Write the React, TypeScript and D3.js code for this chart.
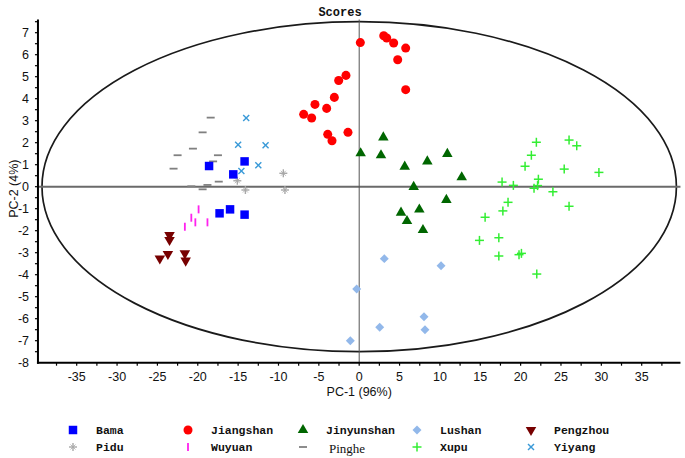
import React from "react";
import * as d3 from "d3";

const bama: [number, number][] = [[-18.6, 0.94], [-14.2, 1.15], [-15.6, 0.56], [-17.3, -1.21], [-16.0, -1.03], [-14.2, -1.27]];
const jiangshan: [number, number][] = [[0.14, 6.55], [3.04, 6.86], [3.41, 6.76], [4.27, 6.53], [5.76, 6.3], [4.77, 5.77], [5.76, 4.41], [-1.64, 5.06], [-2.54, 4.83], [-3.08, 4.06], [-5.48, 3.74], [-4.03, 3.56], [-6.88, 3.29], [-5.89, 3.12], [-3.9, 2.38], [-3.37, 2.09], [-1.39, 2.47]];
const jinyunshan: [number, number][] = [[2.99, 2.24], [0.18, 1.52], [2.7, 1.43], [5.64, 0.91], [8.44, 1.15], [10.92, 1.49], [12.7, 0.43], [6.75, -0.01], [10.8, -0.6], [7.45, -1.04], [5.18, -1.18], [5.92, -1.56], [7.9, -1.97]];
const lushan: [number, number][] = [[3.11, -3.27], [10.14, -3.59], [-0.31, -4.65], [8.03, -5.91], [2.54, -6.39], [8.15, -6.5], [-1.1, -7.0]];
const pengzhou: [number, number][] = [[-23.5, -2.2], [-23.5, -2.42], [-24.7, -3.26], [-23.7, -3.06], [-21.6, -3.03], [-21.5, -3.36]];
const pidu: [number, number][] = [[-9.4, 0.61], [-15.1, 0.27], [-14.1, -0.15], [-9.2, -0.15]];
const wuyuan: [number, number][] = [[-19.9, -1.03], [-20.8, -1.41], [-20.3, -1.62], [-18.8, -1.62], [-21.6, -1.82]];
const pinghe: [number, number][] = [[-18.4, 3.14], [-19.4, 2.47], [-20.6, 1.73], [-22.5, 1.43], [-17.5, 1.43], [-23.0, 0.82], [-18.1, 1.15], [-18.8, 0.08], [-20.8, 0.02], [-17.4, 0.23], [-19.4, -0.12]];
const xupu: [number, number][] = [[21.95, 2.02], [26.0, 2.12], [26.95, 1.86], [21.33, 1.43], [20.55, 0.93], [25.4, 0.8], [29.7, 0.65], [22.2, 0.34], [17.7, 0.21], [19.1, 0.06], [21.66, -0.07], [22.1, 0.05], [24.0, -0.23], [26.0, -0.89], [18.44, -0.71], [17.8, -1.1], [15.6, -1.39], [14.9, -2.44], [17.3, -2.32], [17.3, -3.15], [19.8, -3.09], [20.1, -3.03], [22.0, -3.97]];
const yiyang: [number, number][] = [[-14.0, 3.12], [-15.0, 1.91], [-11.6, 1.88], [-12.5, 0.97], [-14.6, 0.71]];

const xTickLabels = [-35, -30, -25, -20, -15, -10, -5, 0, 5, 10, 15, 20, 25, 30, 35];
const yTickLabels = [7, 6, 5, 4, 3, 2, 1, 0, -1, -2, -3, -4, -5, -6, -7, -8];

const legendRow1 = ["Bama", "Jiangshan", "Jinyunshan", "Lushan", "Pengzhou"];
const legendRow2 = ["Pidu", "Wuyuan", "Pinghe", "Xupu", "Yiyang"];

const W = 685;
const H = 458;

const x = d3.scaleLinear().domain([-35, 35]).range([76.7, 641.7]);
const y = d3.scaleLinear().domain([-8, 7]).range([362.7, 32.7]);
const X0 = x(-39.8);
const X1 = x(39.8);
const Y0 = y(-8);
const Y1 = y(7.6);

type Kind = "square" | "circle" | "tri" | "diamond" | "itri" | "aster" | "bar" | "dash" | "plus" | "x";

const styles: Record<string, { kind: Kind; color: string }> = {
  Bama: { kind: "square", color: "#0000ff" },
  Jiangshan: { kind: "circle", color: "#ff0000" },
  Jinyunshan: { kind: "tri", color: "#006600" },
  Lushan: { kind: "diamond", color: "#92b8ea" },
  Pengzhou: { kind: "itri", color: "#770000" },
  Pidu: { kind: "aster", color: "#a8a8a8" },
  Wuyuan: { kind: "bar", color: "#ff22ee" },
  Pinghe: { kind: "dash", color: "#808080" },
  Xupu: { kind: "plus", color: "#33ee33" },
  Yiyang: { kind: "x", color: "#3a9ad8" },
};

const seriesData: Record<string, [number, number][]> = {
  Bama: bama,
  Jiangshan: jiangshan,
  Jinyunshan: jinyunshan,
  Lushan: lushan,
  Pengzhou: pengzhou,
  Pidu: pidu,
  Wuyuan: wuyuan,
  Pinghe: pinghe,
  Xupu: xupu,
  Yiyang: yiyang,
};

const sq = d3.symbol().type(d3.symbolSquare).size(72)()!;
const circ = d3.symbol().type(d3.symbolCircle).size(64)()!;
const tri = d3.symbol().type(d3.symbolTriangle).size(48)()!;
const dia = d3.symbol().type(d3.symbolSquare).size(40)()!;

function Marker({ kind, color, cx, cy }: { kind: Kind; color: string; cx: number; cy: number }) {
  const t = `translate(${cx},${cy})`;
  switch (kind) {
    case "square":
      return <path d={sq} transform={t} fill={color} />;
    case "circle":
      return <path d={circ} transform={t} fill={color} />;
    case "tri":
      return <path d={tri} transform={t} fill={color} />;
    case "itri":
      return <path d={tri} transform={`${t} rotate(180)`} fill={color} />;
    case "diamond":
      return <path d={dia} transform={`${t} rotate(45)`} fill={color} />;
    case "aster":
      return (
        <g transform={t} stroke={color} strokeWidth={1.4}>
          <line x1={-4} y1={0} x2={4} y2={0} />
          <line x1={0} y1={-4} x2={0} y2={4} />
          <line x1={-2.5} y1={-2.5} x2={2.5} y2={2.5} strokeWidth={0.8} />
          <line x1={-2.5} y1={2.5} x2={2.5} y2={-2.5} strokeWidth={0.8} />
        </g>
      );
    case "bar":
      return <line transform={t} x1={0} y1={-4} x2={0} y2={4} stroke={color} strokeWidth={1.8} />;
    case "dash":
      return <line transform={t} x1={-4} y1={0} x2={4} y2={0} stroke={color} strokeWidth={1.8} />;
    case "plus":
      return (
        <g transform={t} stroke={color} strokeWidth={1.5}>
          <line x1={-4.5} y1={0} x2={4.5} y2={0} />
          <line x1={0} y1={-4.5} x2={0} y2={4.5} />
        </g>
      );
    case "x":
      return (
        <g transform={t} stroke={color} strokeWidth={1.4}>
          <line x1={-3} y1={-3} x2={3} y2={3} />
          <line x1={-3} y1={3} x2={3} y2={-3} />
        </g>
      );
  }
}

export default function App() {
  const xMinor = d3.range(-37.5, 37.6, 2.5);
  const yMinor = d3.range(-7.5, 7.6, 0.5);
  const drawOrder = ["Lushan", "Pidu", "Pinghe", "Yiyang", "Wuyuan", "Pengzhou", "Jinyunshan", "Xupu", "Jiangshan", "Bama"];
  const legendX = [73, 188, 303, 417, 531];
  const legendFont = "Liberation Mono, monospace";
  return (
    <svg width={W} height={H} style={{ position: "absolute", left: 0, top: 0, background: "#fff" }}>
      <rect width={W} height={H} fill="#fff" />
      <text x={340} y={16} textAnchor="middle" fontFamily={legendFont} fontWeight="bold" fontSize={12} fill="#111">Scores</text>

      {/* ellipse */}
      <ellipse cx={x(0)} cy={y(0)} rx={x(39.3) - x(0)} ry={y(0) - y(7.5)} fill="none" stroke="#1a1a1a" strokeWidth={1.7} />
      {/* zero lines */}
      <line x1={X0} x2={X1} y1={y(0)} y2={y(0)} stroke="#6a6a6a" strokeWidth={2} />
      <line x1={x(0)} x2={x(0)} y1={Y1} y2={Y0} stroke="#555" strokeWidth={1} />

      {/* points */}
      {drawOrder.map((name) =>
        seriesData[name].map((d, i) => (
          <Marker key={name + i} kind={styles[name].kind} color={styles[name].color} cx={x(d[0])} cy={y(d[1])} />
        ))
      )}

      {/* axes */}
      <line x1={X0} x2={X0} y1={Y1} y2={Y0 + 1} stroke="#000" strokeWidth={2} />
      <line x1={X0 - 1} x2={X1} y1={Y0} y2={Y0} stroke="#000" strokeWidth={2} />
      {yMinor.map((v) => (
        <line key={"yt" + v} x1={X0 - 3} x2={X0} y1={y(v)} y2={y(v)} stroke="#000" strokeWidth={1.2} />
      ))}
      {xMinor.map((v) => (
        <line key={"xt" + v} x1={x(v)} x2={x(v)} y1={Y0} y2={Y0 + 3} stroke="#000" strokeWidth={1.2} />
      ))}
      {yTickLabels.map((v) => (
        <text key={"yl" + v} x={29} y={y(v) + 4.5} textAnchor="end" fontFamily="Liberation Sans, Arial, sans-serif" fontSize={12.5} fill="#111">{v}</text>
      ))}
      {xTickLabels.map((v) => (
        <text key={"xl" + v} x={x(v)} y={381} textAnchor="middle" fontFamily="Liberation Sans, Arial, sans-serif" fontSize={12.5} fill="#111">{v}</text>
      ))}
      <text x={x(0)} y={396} textAnchor="middle" fontFamily="Liberation Sans, Arial, sans-serif" fontSize={12.5} fill="#111">PC-1 (96%)</text>
      <text transform={`translate(18,${y(0) + 2}) rotate(-90)`} textAnchor="middle" fontFamily="Liberation Sans, Arial, sans-serif" fontSize={12.5} fill="#111">PC-2 (4%)</text>

      {/* legend */}
      {legendRow1.map((name, i) => (
        <g key={"l1" + name}>
          <Marker kind={styles[name].kind} color={styles[name].color} cx={legendX[i]} cy={430} />
          <text x={legendX[i] + 23} y={434} fontFamily={legendFont} fontWeight={600} fontSize={11.5} fill="#111">{name}</text>
        </g>
      ))}
      {legendRow2.map((name, i) => (
        <g key={"l2" + name}>
          <Marker kind={styles[name].kind} color={styles[name].color} cx={legendX[i]} cy={447} />
          <text x={legendX[i] + (name === "Pinghe" ? 26 : 23)} y={name === "Pinghe" ? 453 : 451} fontFamily={name === "Pinghe" ? "Liberation Serif, serif" : legendFont} fontWeight={name === "Pinghe" ? 400 : 600} fontSize={name === "Pinghe" ? 13 : 11.5} fill="#111">{name}</text>
        </g>
      ))}
    </svg>
  );
}
